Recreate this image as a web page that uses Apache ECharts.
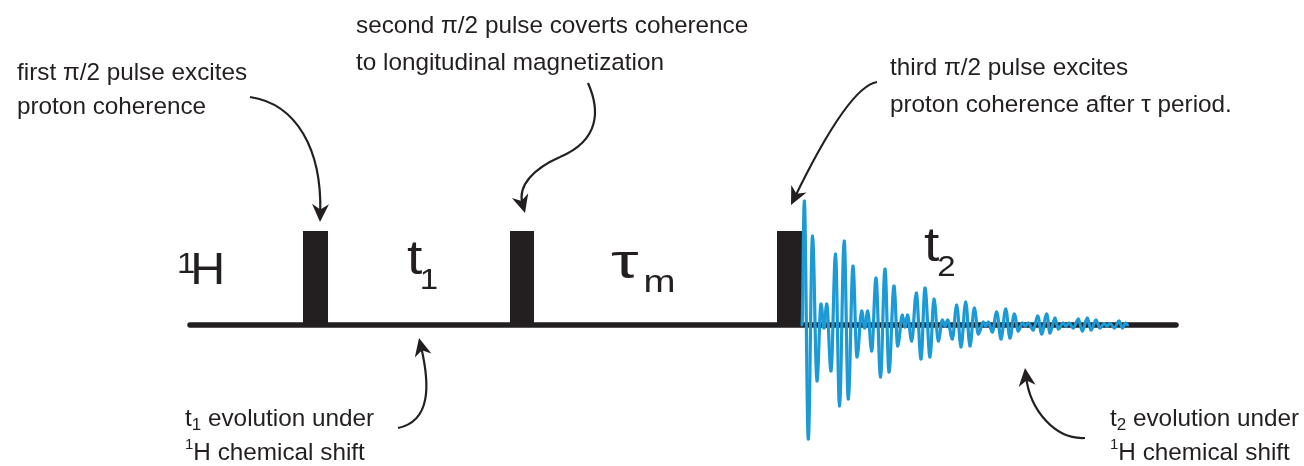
<!DOCTYPE html>
<html>
<head>
<meta charset="utf-8">
<script src="https://cdn.jsdelivr.net/npm/echarts@6/dist/echarts.min.js"></script>
<style>
  html, body { margin: 0; padding: 0; background: #ffffff; }
  #chart { width: 1304px; height: 466px; }
</style>
</head>
<body>
<div id="chart"></div>
<script>
// ---- NOESY-type pulse sequence on the 1H channel ----
// Horizontal unit: time along the sequence; vertical unit: height above the channel line.

// Channel line extent
const channelSpan = [190, 1176];

// Three π/2 pulses: start, end, height
const pulseStart = [303, 510, 777];
const pulseEnd = [328, 534, 802];
const pulseHeight = [94, 94, 94];

// Free induction decay recorded during t2: turning points (time, amplitude)
const fidTime = [802, 804.3, 808.3, 812.5, 817, 821, 824, 826.7, 831, 835.5, 839.5, 844.2, 848.3, 853, 857,
  861.7, 864.7, 867.7, 871.7, 876, 880.5, 885, 889, 894, 897.7, 902.3, 905, 907.5, 911.7, 916.3, 921, 925,
  930, 934, 938.3, 942.3, 945, 947.7, 952.3, 956.7, 961, 965.7, 970, 974.3, 978.3, 983.3, 985.8, 988.3,
  992.3, 996.7, 1001, 1005.7, 1010, 1014.3, 1018.3, 1022.3, 1025.5, 1028.3, 1033.3, 1037.7, 1041.7, 1046.7,
  1050, 1055, 1058.3, 1063, 1066, 1069, 1073.3, 1078.3, 1082.3, 1087.3, 1091, 1096, 1100, 1104, 1107, 1110,
  1114.5, 1119, 1122.5, 1125.5, 1127.5];
const fidAmp = [0, 124, -114, 89, -56, 21, -3, 21, -46, 71, -81, 84, -74, 59, -32,
  14, -3, 14, -26, 47, -52, 56, -47, 39, -21, 10, -2, 10, -16, 32, -34, 37,
  -32, 26, -16, 5, -1, 5, -14, 20, -22, 23, -21, 17, -9, 3, -1, 3,
  -7, 13, -14, 16, -13, 11, -6, 2, -1, 2, -5, 9, -9, 11,
  -8, 7, -4, 2, -1, 2, -3, 6, -6, 7, -5, 5, -3, 1.5, -1, 1.5,
  -3, 4, -3, 2, 0];

// Explanatory notes
const noteText = [
  'first π/2 pulse excites',
  'proton coherence',
  'second π/2 pulse coverts coherence',
  'to longitudinal magnetization',
  'third π/2 pulse excites',
  'proton coherence after τ period.'
];

// Labels made of runs: [text, run style, extra offset]
const scriptLabels = [
  [['1', 'bigSup'], ['H', 'bigH', -5]],
  [['t', 'big'], ['1', 'bigSub', -2.5]],
  [['τ', 'bigTau'], ['m', 'tauSub', 5]],
  [['t', 'big'], ['2', 'bigSub', -2]],
  [['t', 'note'], ['1', 'noteSub'], [' evolution under', 'note']],
  [['1', 'noteSup'], ['H chemical shift', 'note']],
  [['t', 'note'], ['2', 'noteSub'], [' evolution under', 'note']],
  [['1', 'noteSup'], ['H chemical shift', 'note']]
];

// ---- layout (x, baseline height) ----
const noteAnchor = [[17, 243], [17, 209], [356, 290], [356, 253], [890, 248], [890, 211]];
const scriptAnchor = [[177, 38], [407, 48], [611, 44], [924, 61],
  [185, -103], [185, -137], [1110, -103], [1110, -137]];

// Curved pointer arrows: cubic Bézier chains ending at the arrow tip
const arrowPaths = [
  [[250, 228], [297, 221], [322, 175], [320, 103]],
  [[588, 242], [600, 215], [600, 185], [560, 168], [535, 157], [517, 140], [525, 112]],
  [[877, 243], [858, 240], [830, 200], [791, 120]],
  [[398, -103], [431, -96], [430, -60], [419, -13]],
  [[1085, -113], [1055, -115], [1030, -85], [1025, -43]]
];

// ---- styles ----
const INK = '#231f20';
const SIGNAL = '#1b9ad6';
const FONT_FAMILY = '"Liberation Sans", Arial, Helvetica, sans-serif';
const runStyle = {
  note: { size: 24.3, rise: 0, stretch: 1 },
  noteSub: { size: 17, rise: -3, stretch: 1 },
  noteSup: { size: 15, rise: 12, stretch: 1 },
  big: { size: 48, rise: 0, stretch: 1.15 },
  bigTau: { size: 48, rise: 0, stretch: 1.45 },
  bigH: { size: 44, rise: 0, stretch: 1.1 },
  bigSub: { size: 30, rise: -14, stretch: 1.1 },
  tauSub: { size: 32, rise: -13, stretch: 1.2 },
  bigSup: { size: 30, rise: 12, stretch: 1.1 }
};

const measureCtx = document.createElement('canvas').getContext('2d');
function textWidth(str, size) {
  measureCtx.font = size + 'px ' + FONT_FAMILY;
  return measureCtx.measureText(str).width;
}
// Text element whose alphabetic baseline sits at (px, baselineY)
function textEl(str, size, px, baselineY, stretch) {
  return {
    type: 'text',
    x: px,
    y: baselineY - 0.3465 * size,
    scaleX: stretch || 1,
    style: {
      text: str,
      fill: INK,
      font: size + 'px ' + FONT_FAMILY,
      align: 'left',
      verticalAlign: 'middle',
      textAlign: 'left',
      textVerticalAlign: 'middle'
    }
  };
}

const chart = echarts.init(document.getElementById('chart'), null, { renderer: 'canvas' });

const option = {
  animation: false,
  backgroundColor: '#ffffff',
  grid: { left: 0, right: 0, top: 0, bottom: 0 },
  xAxis: { type: 'value', min: 0, max: 1304, show: false },
  yAxis: { type: 'value', min: -141, max: 325, show: false },
  series: [
    // channel line
    {
      type: 'line',
      data: [[channelSpan[0], 0], [channelSpan[1], 0]],
      symbol: 'none',
      silent: true,
      z: 1,
      lineStyle: { color: INK, width: 5.5, cap: 'round' }
    },
    // pulses
    {
      type: 'custom',
      coordinateSystem: 'cartesian2d',
      silent: true,
      z: 2,
      data: pulseStart.map((s, i) => [s, pulseEnd[i], pulseHeight[i]]),
      encode: { x: [0, 1], y: 2 },
      renderItem(params, api) {
        const a = api.coord([api.value(0), api.value(2)]);
        const b = api.coord([api.value(1), 0]);
        return {
          type: 'rect',
          shape: { x: a[0], y: a[1], width: b[0] - a[0], height: b[1] - a[1] },
          style: { fill: INK }
        };
      }
    },
    // FID: one smooth segment between consecutive turning points
    {
      type: 'custom',
      coordinateSystem: 'cartesian2d',
      silent: true,
      z: 3,
      data: fidTime.slice(1).map((t, i) => [fidTime[i], fidAmp[i], t, fidAmp[i + 1]]),
      encode: { x: [0, 2], y: [1, 3] },
      renderItem(params, api) {
        const a = api.coord([api.value(0), api.value(1)]);
        const b = api.coord([api.value(2), api.value(3)]);
        const h = (b[0] - a[0]) * 0.36;
        return {
          type: 'bezierCurve',
          shape: { x1: a[0], y1: a[1], x2: b[0], y2: b[1], cpx1: a[0] + h, cpy1: a[1], cpx2: b[0] - h, cpy2: b[1] },
          style: { stroke: SIGNAL, lineWidth: 3.2, fill: 'none', lineCap: 'round' }
        };
      }
    },
    // pointer arrows
    {
      type: 'custom',
      coordinateSystem: 'cartesian2d',
      silent: true,
      z: 4,
      data: arrowPaths.map((p, i) => [p[p.length - 1][0], p[p.length - 1][1], i]),
      encode: { x: 0, y: 1 },
      renderItem(params, api) {
        const pts = arrowPaths[api.value(2)].map(p => api.coord(p));
        const n = pts.length;
        const tip = pts[n - 1];
        const prev = pts[n - 2];
        let dx = tip[0] - prev[0], dy = tip[1] - prev[1];
        const len = Math.hypot(dx, dy);
        dx /= len; dy /= len;
        const nx = -dy, ny = dx;
        const L = 18, W = 8.5;
        const children = [];
        for (let k = 0; k + 3 < n; k += 3) {
          const end = (k + 3 === n - 1) ? [tip[0] - dx * 9, tip[1] - dy * 9] : pts[k + 3];
          children.push({
            type: 'bezierCurve',
            shape: {
              x1: pts[k][0], y1: pts[k][1], x2: end[0], y2: end[1],
              cpx1: pts[k + 1][0], cpy1: pts[k + 1][1], cpx2: pts[k + 2][0], cpy2: pts[k + 2][1]
            },
            style: { stroke: INK, lineWidth: 2.2, fill: 'none' }
          });
        }
        children.push({
          type: 'polygon',
          shape: {
            points: [
              tip,
              [tip[0] - dx * L + nx * W, tip[1] - dy * L + ny * W],
              [tip[0] - dx * L * 0.7, tip[1] - dy * L * 0.7],
              [tip[0] - dx * L - nx * W, tip[1] - dy * L - ny * W]
            ]
          },
          style: { fill: INK }
        });
        return { type: 'group', children };
      }
    },
    // notes
    {
      type: 'custom',
      coordinateSystem: 'cartesian2d',
      silent: true,
      z: 5,
      data: noteAnchor.map((p, i) => [p[0], p[1], i]),
      encode: { x: 0, y: 1 },
      renderItem(params, api) {
        const p = api.coord([api.value(0), api.value(1)]);
        return textEl(noteText[api.value(2)], runStyle.note.size, p[0], p[1], 1);
      }
    },
    // labels with sub- and superscripts
    {
      type: 'custom',
      coordinateSystem: 'cartesian2d',
      silent: true,
      z: 5,
      data: scriptAnchor.map((p, i) => [p[0], p[1], i]),
      encode: { x: 0, y: 1 },
      renderItem(params, api) {
        const p = api.coord([api.value(0), api.value(1)]);
        const runs = scriptLabels[api.value(2)];
        let x = p[0];
        const children = [];
        runs.forEach(run => {
          const st = runStyle[run[1]];
          x += run[2] || 0;
          children.push(textEl(run[0], st.size, x, p[1] - st.rise, st.stretch));
          x += textWidth(run[0], st.size) * st.stretch;
        });
        return { type: 'group', children };
      }
    }
  ]
};

chart.setOption(option);
</script>
</body>
</html>
